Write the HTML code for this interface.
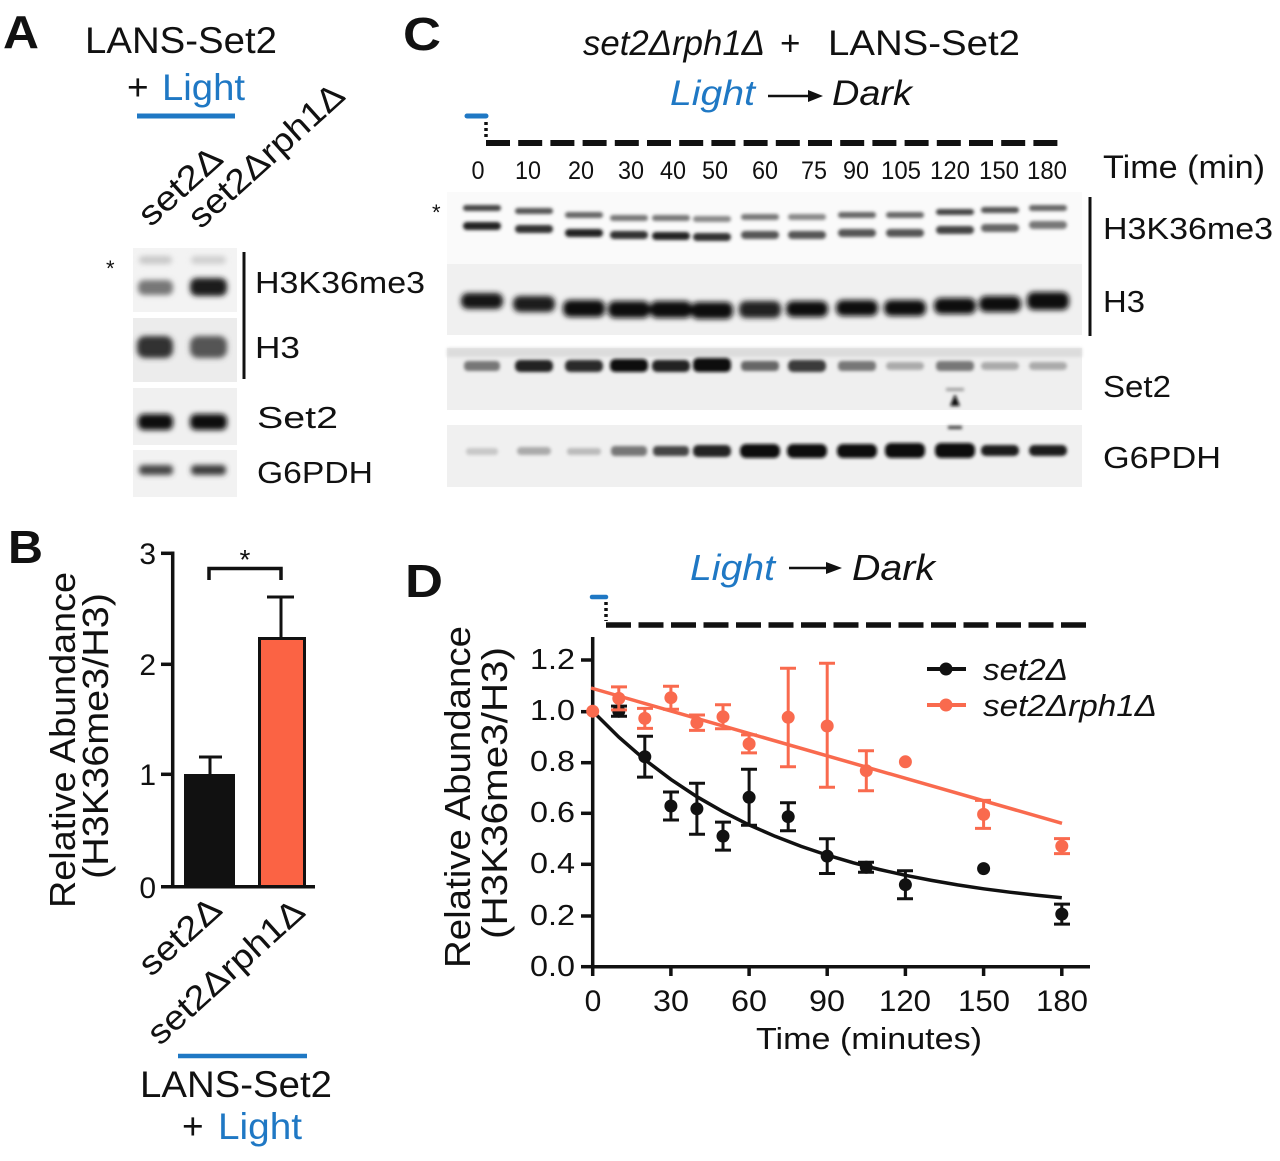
<!DOCTYPE html>
<html><head><meta charset="utf-8"><style>
html,body{margin:0;padding:0;background:#fff;}
svg{display:block;}
text{font-family:"Liberation Sans",Arial,sans-serif;fill:#111;}
</style></head><body>
<svg width="1280" height="1161" viewBox="0 0 1280 1161" xmlns="http://www.w3.org/2000/svg">
<defs>
<filter id="b1" x="-50%" y="-100%" width="200%" height="300%"><feGaussianBlur stdDeviation="1.6"/></filter>
<filter id="b2" x="-50%" y="-100%" width="200%" height="300%"><feGaussianBlur stdDeviation="2.6"/></filter>
</defs>

<!-- Panel letters -->
<text x="3" y="48" font-size="46" font-weight="bold" textLength="36" lengthAdjust="spacingAndGlyphs">A</text>
<text x="8" y="563" font-size="46" font-weight="bold" textLength="35" lengthAdjust="spacingAndGlyphs">B</text>
<text x="403" y="50" font-size="46" font-weight="bold" textLength="38" lengthAdjust="spacingAndGlyphs">C</text>
<text x="405" y="597" font-size="46" font-weight="bold" textLength="38" lengthAdjust="spacingAndGlyphs">D</text>

<!-- ================= PANEL A ================= -->
<text x="85" y="53" font-size="37" textLength="192" lengthAdjust="spacingAndGlyphs">LANS-Set2</text>
<text x="127" y="100" font-size="37">+</text>
<text x="162" y="100" font-size="37" style="fill:#1f78c4" textLength="83" lengthAdjust="spacingAndGlyphs">Light</text>
<line x1="137" y1="116" x2="235" y2="116" stroke="#1f78c4" stroke-width="5"/>
<text transform="translate(225,161) rotate(-42)" text-anchor="end" font-size="34" textLength="100" lengthAdjust="spacingAndGlyphs">set2Δ</text>
<text transform="translate(347,98) rotate(-42)" text-anchor="end" font-size="34" textLength="197" lengthAdjust="spacingAndGlyphs">set2Δrph1Δ</text>

<text x="106" y="276" font-size="22">*</text>
<!-- A blots -->
<rect x="133" y="248" width="104" height="64" fill="#f3f3f3"/>
<rect x="133" y="318" width="104" height="64" fill="#ececec"/>
<rect x="133" y="388" width="104" height="57" fill="#f0f0f0"/>
<rect x="133" y="450" width="104" height="47" fill="#f2f2f2"/>
<g filter="url(#b2)">
<rect x="139" y="256" width="33" height="8" rx="4" fill="#c8c8c8"/>
<rect x="191" y="256" width="35" height="8" rx="4" fill="#cfcfcf"/>
<rect x="138" y="280" width="35" height="15" rx="6" fill="#777"/>
<rect x="190" y="278" width="37" height="18" rx="7" fill="#1a1a1a"/>
<rect x="137" y="336" width="36" height="22" rx="8" fill="#333"/>
<rect x="190" y="336" width="37" height="22" rx="8" fill="#555"/>
<rect x="138" y="414" width="35" height="16" rx="6" fill="#111"/>
<rect x="190" y="414" width="37" height="16" rx="6" fill="#111"/>
<rect x="139" y="465" width="34" height="10" rx="4" fill="#444"/>
<rect x="191" y="465" width="35" height="10" rx="4" fill="#3a3a3a"/>
</g>
<line x1="244" y1="252" x2="244" y2="379" stroke="#111" stroke-width="3"/>
<text x="255" y="293" font-size="31" textLength="170" lengthAdjust="spacingAndGlyphs">H3K36me3</text>
<text x="255" y="358" font-size="31" textLength="45" lengthAdjust="spacingAndGlyphs">H3</text>
<text x="257" y="428" font-size="31" textLength="81" lengthAdjust="spacingAndGlyphs">Set2</text>
<text x="257" y="483" font-size="31" textLength="116" lengthAdjust="spacingAndGlyphs">G6PDH</text>

<!-- ================= PANEL B ================= -->
<text transform="translate(75,740) rotate(-90)" text-anchor="middle" font-size="36" textLength="336" lengthAdjust="spacingAndGlyphs">Relative Abundance</text>
<text transform="translate(108,736) rotate(-90)" text-anchor="middle" font-size="36" textLength="286" lengthAdjust="spacingAndGlyphs">(H3K36me3/H3)</text>
<g font-size="30" text-anchor="end">
<text x="156" y="564">3</text>
<text x="156" y="675">2</text>
<text x="156" y="785">1</text>
<text x="156" y="898">0</text>
</g>
<g stroke="#111" stroke-width="3.5" fill="none">
<line x1="172.7" y1="551.5" x2="172.7" y2="888"/>
<line x1="161" y1="886.7" x2="315" y2="886.7"/>
<line x1="161" y1="553.3" x2="172" y2="553.3"/>
<line x1="161" y1="664.3" x2="172" y2="664.3"/>
<line x1="161" y1="774.3" x2="172" y2="774.3"/>
</g>
<rect x="184" y="774" width="51" height="113" fill="#111"/>
<rect x="259.5" y="638.5" width="45" height="248" fill="#fb6344" stroke="#111" stroke-width="3"/>
<g stroke="#111" stroke-width="3" fill="none">
<line x1="210" y1="774" x2="210" y2="757"/>
<line x1="199" y1="757" x2="222" y2="757"/>
<line x1="281" y1="637" x2="281" y2="597"/>
<line x1="267" y1="597" x2="294" y2="597"/>
<path d="M209 580 V568.5 H281 V580" stroke-width="3.5"/>
</g>
<text x="245" y="569" font-size="28" text-anchor="middle">*</text>
<text transform="translate(224,912) rotate(-42)" text-anchor="end" font-size="34" textLength="98" lengthAdjust="spacingAndGlyphs">set2Δ</text>
<text transform="translate(307,914) rotate(-42)" text-anchor="end" font-size="34" textLength="198" lengthAdjust="spacingAndGlyphs">set2Δrph1Δ</text>
<line x1="178" y1="1056" x2="307" y2="1056" stroke="#1f78c4" stroke-width="4.5"/>
<text x="140" y="1097" font-size="37" textLength="192" lengthAdjust="spacingAndGlyphs">LANS-Set2</text>
<text x="182" y="1139" font-size="37">+</text>
<text x="218" y="1139" font-size="37" style="fill:#1f78c4" textLength="84" lengthAdjust="spacingAndGlyphs">Light</text>

<!-- ================= PANEL C ================= -->
<text x="583" y="55" font-size="35" font-style="italic" textLength="182" lengthAdjust="spacingAndGlyphs">set2Δrph1Δ</text>
<text x="780" y="55" font-size="35">+</text>
<text x="828" y="55" font-size="35" textLength="192" lengthAdjust="spacingAndGlyphs">LANS-Set2</text>
<text x="670" y="105" font-size="35" font-style="italic" style="fill:#1f78c4" textLength="85" lengthAdjust="spacingAndGlyphs">Light</text>
<line x1="768" y1="96" x2="812" y2="96" stroke="#111" stroke-width="2.5"/>
<path d="M808 90 L823 96 L808 102 Z" fill="#111"/>
<text x="832" y="105" font-size="35" font-style="italic" textLength="80" lengthAdjust="spacingAndGlyphs">Dark</text>

<line x1="467" y1="116" x2="486" y2="116" stroke="#1f78c4" stroke-width="5" stroke-linecap="round"/>
<line x1="486" y1="122" x2="486" y2="140" stroke="#111" stroke-width="3.5" stroke-dasharray="3 3"/>
<line x1="486" y1="143" x2="1065" y2="143" stroke="#111" stroke-width="6" stroke-dasharray="24 8.2"/>

<g font-size="25" text-anchor="middle">
<text x="478" y="179" textLength="13" lengthAdjust="spacingAndGlyphs">0</text>
<text x="528" y="179" textLength="26" lengthAdjust="spacingAndGlyphs">10</text>
<text x="581" y="179" textLength="26" lengthAdjust="spacingAndGlyphs">20</text>
<text x="631" y="179" textLength="26" lengthAdjust="spacingAndGlyphs">30</text>
<text x="673" y="179" textLength="26" lengthAdjust="spacingAndGlyphs">40</text>
<text x="715" y="179" textLength="26" lengthAdjust="spacingAndGlyphs">50</text>
<text x="765" y="179" textLength="26" lengthAdjust="spacingAndGlyphs">60</text>
<text x="814" y="179" textLength="26" lengthAdjust="spacingAndGlyphs">75</text>
<text x="856" y="179" textLength="26" lengthAdjust="spacingAndGlyphs">90</text>
<text x="901" y="179" textLength="40" lengthAdjust="spacingAndGlyphs">105</text>
<text x="950" y="179" textLength="40" lengthAdjust="spacingAndGlyphs">120</text>
<text x="999" y="179" textLength="40" lengthAdjust="spacingAndGlyphs">150</text>
<text x="1047" y="179" textLength="40" lengthAdjust="spacingAndGlyphs">180</text>
</g>
<text x="1103" y="178" font-size="32" textLength="162" lengthAdjust="spacingAndGlyphs">Time (min)</text>
<text x="432" y="220" font-size="22">*</text>

<!-- C blot backgrounds -->
<rect x="447" y="192" width="635" height="72" fill="#fafafa"/>
<rect x="447" y="264" width="635" height="71" fill="#f0f0f0"/>
<rect x="447" y="348" width="635" height="62" fill="#efefef"/>
<rect x="447" y="425" width="635" height="62" fill="#f0f0f0"/>
<rect x="447" y="348" width="635" height="9" fill="#dcdcdc" filter="url(#b1)"/>

<!-- H3K36me3 bands -->
<g filter="url(#b1)">
<rect x="463" y="205" width="38" height="6" rx="3" fill="#444"/>
<rect x="515" y="208" width="38" height="6" rx="3" fill="#555"/>
<rect x="565" y="212" width="38" height="6" rx="3" fill="#666"/>
<rect x="610" y="215" width="38" height="6" rx="3" fill="#777"/>
<rect x="652" y="215" width="38" height="6" rx="3" fill="#777"/>
<rect x="693" y="216" width="38" height="6" rx="3" fill="#888"/>
<rect x="741" y="214" width="38" height="6" rx="3" fill="#777"/>
<rect x="788" y="214" width="38" height="6" rx="3" fill="#888"/>
<rect x="838" y="212" width="38" height="6" rx="3" fill="#666"/>
<rect x="886" y="212" width="38" height="6" rx="3" fill="#666"/>
<rect x="936" y="209" width="38" height="6" rx="3" fill="#444"/>
<rect x="981" y="207" width="38" height="6" rx="3" fill="#555"/>
<rect x="1029" y="205" width="38" height="6" rx="3" fill="#666"/>

<rect x="463" y="222" width="38" height="8" rx="4" fill="#222"/>
<rect x="515" y="225" width="38" height="8" rx="4" fill="#333"/>
<rect x="565" y="229" width="38" height="8" rx="4" fill="#222"/>
<rect x="610" y="231" width="38" height="8" rx="4" fill="#333"/>
<rect x="652" y="232" width="38" height="8" rx="4" fill="#222"/>
<rect x="693" y="233" width="38" height="8" rx="4" fill="#333"/>
<rect x="741" y="231" width="38" height="8" rx="4" fill="#555"/>
<rect x="788" y="231" width="38" height="8" rx="4" fill="#555"/>
<rect x="838" y="229" width="38" height="8" rx="4" fill="#555"/>
<rect x="886" y="229" width="38" height="8" rx="4" fill="#555"/>
<rect x="936" y="226" width="38" height="8" rx="4" fill="#444"/>
<rect x="981" y="224" width="38" height="8" rx="4" fill="#666"/>
<rect x="1029" y="221" width="38" height="8" rx="4" fill="#777"/>
</g>
<!-- H3 bands -->
<g filter="url(#b2)">
<rect x="461" y="293" width="42" height="16" rx="7" fill="#151515"/>
<rect x="513" y="296" width="42" height="16" rx="7" fill="#1a1a1a"/>
<rect x="563" y="300" width="42" height="17" rx="7" fill="#111"/>
<rect x="608" y="301" width="42" height="17" rx="7" fill="#111"/>
<rect x="650" y="301" width="42" height="17" rx="7" fill="#111"/>
<rect x="691" y="302" width="42" height="17" rx="7" fill="#111"/>
<rect x="739" y="301" width="42" height="17" rx="7" fill="#222"/>
<rect x="786" y="301" width="42" height="16" rx="7" fill="#111"/>
<rect x="836" y="300" width="42" height="16" rx="7" fill="#111"/>
<rect x="884" y="300" width="42" height="16" rx="7" fill="#111"/>
<rect x="934" y="298" width="42" height="16" rx="7" fill="#111"/>
<rect x="979" y="296" width="42" height="16" rx="7" fill="#111"/>
<rect x="1027" y="292" width="42" height="18" rx="7" fill="#111"/>
</g>
<!-- Set2 bands -->
<g filter="url(#b1)">
<rect x="464" y="361" width="36" height="10" rx="4" fill="#777"/>
<rect x="515" y="360" width="38" height="12" rx="5" fill="#222"/>
<rect x="565" y="360" width="38" height="12" rx="5" fill="#2a2a2a"/>
<rect x="610" y="359" width="38" height="13" rx="5" fill="#111"/>
<rect x="652" y="360" width="38" height="12" rx="5" fill="#222"/>
<rect x="693" y="358" width="38" height="14" rx="5" fill="#111"/>
<rect x="741" y="361" width="38" height="10" rx="4" fill="#666"/>
<rect x="788" y="360" width="38" height="12" rx="5" fill="#3a3a3a"/>
<rect x="838" y="361" width="38" height="10" rx="4" fill="#777"/>
<rect x="886" y="362" width="38" height="8" rx="4" fill="#aaa"/>
<rect x="936" y="361" width="38" height="10" rx="4" fill="#777"/>
<rect x="981" y="362" width="38" height="8" rx="4" fill="#aaa"/>
<rect x="1029" y="362" width="38" height="8" rx="4" fill="#aaa"/>
<path d="M955 394 L960 406 L950 406 Z" fill="#111"/>
<rect x="946" y="388" width="18" height="3" fill="#999"/>
<rect x="948" y="426" width="14" height="3" fill="#333"/>
</g>
<!-- G6PDH bands -->
<g filter="url(#b1)">
<rect x="466" y="448" width="32" height="7" rx="3" fill="#c8c8c8"/>
<rect x="517" y="447" width="34" height="8" rx="4" fill="#aaa"/>
<rect x="567" y="448" width="34" height="7" rx="3" fill="#bbb"/>
<rect x="611" y="446" width="36" height="10" rx="4" fill="#777"/>
<rect x="653" y="446" width="36" height="10" rx="4" fill="#444"/>
<rect x="693" y="445" width="38" height="12" rx="5" fill="#222"/>
<rect x="740" y="444" width="40" height="14" rx="6" fill="#111"/>
<rect x="787" y="444" width="40" height="14" rx="6" fill="#111"/>
<rect x="837" y="444" width="40" height="14" rx="6" fill="#111"/>
<rect x="885" y="443" width="40" height="15" rx="6" fill="#111"/>
<rect x="935" y="443" width="40" height="15" rx="6" fill="#111"/>
<rect x="981" y="445" width="38" height="11" rx="5" fill="#1a1a1a"/>
<rect x="1029" y="445" width="38" height="11" rx="5" fill="#1a1a1a"/>
</g>
<line x1="1090" y1="197" x2="1090" y2="336" stroke="#111" stroke-width="3"/>
<text x="1103" y="239" font-size="31" textLength="170" lengthAdjust="spacingAndGlyphs">H3K36me3</text>
<text x="1103" y="312" font-size="31" textLength="42" lengthAdjust="spacingAndGlyphs">H3</text>
<text x="1103" y="397" font-size="31" textLength="68" lengthAdjust="spacingAndGlyphs">Set2</text>
<text x="1103" y="468" font-size="31" textLength="118" lengthAdjust="spacingAndGlyphs">G6PDH</text>

<!-- ================= PANEL D ================= -->
<text x="690" y="580" font-size="36" font-style="italic" style="fill:#1f78c4" textLength="85" lengthAdjust="spacingAndGlyphs">Light</text>
<line x1="789" y1="568" x2="830" y2="568" stroke="#111" stroke-width="2.5"/>
<path d="M826 562 L842 568 L826 574 Z" fill="#111"/>
<text x="852" y="580" font-size="36" font-style="italic" textLength="83" lengthAdjust="spacingAndGlyphs">Dark</text>

<line x1="592" y1="597" x2="606" y2="597" stroke="#1f78c4" stroke-width="4.5" stroke-linecap="round"/>
<line x1="606" y1="602" x2="606" y2="621" stroke="#111" stroke-width="3.5" stroke-dasharray="3 3"/>
<line x1="606" y1="625" x2="1093" y2="625" stroke="#111" stroke-width="5.5" stroke-dasharray="25 7.5"/>

<text transform="translate(470,797) rotate(-90)" text-anchor="middle" font-size="36" textLength="342" lengthAdjust="spacingAndGlyphs">Relative Abundance</text>
<text transform="translate(507,793) rotate(-90)" text-anchor="middle" font-size="36" textLength="292" lengthAdjust="spacingAndGlyphs">(H3K36me3/H3)</text>

<g font-size="29" text-anchor="end">
<text x="575" y="669" textLength="45" lengthAdjust="spacingAndGlyphs">1.2</text>
<text x="575" y="720" textLength="45" lengthAdjust="spacingAndGlyphs">1.0</text>
<text x="575" y="771" textLength="45" lengthAdjust="spacingAndGlyphs">0.8</text>
<text x="575" y="822" textLength="45" lengthAdjust="spacingAndGlyphs">0.6</text>
<text x="575" y="873" textLength="45" lengthAdjust="spacingAndGlyphs">0.4</text>
<text x="575" y="925" textLength="45" lengthAdjust="spacingAndGlyphs">0.2</text>
<text x="575" y="976" textLength="45" lengthAdjust="spacingAndGlyphs">0.0</text>
</g>
<g font-size="30" text-anchor="middle">
<text x="593" y="1011">0</text>
<text x="671" y="1011" textLength="36" lengthAdjust="spacingAndGlyphs">30</text>
<text x="749" y="1011" textLength="36" lengthAdjust="spacingAndGlyphs">60</text>
<text x="827" y="1011" textLength="36" lengthAdjust="spacingAndGlyphs">90</text>
<text x="905" y="1011" textLength="52" lengthAdjust="spacingAndGlyphs">120</text>
<text x="984" y="1011" textLength="52" lengthAdjust="spacingAndGlyphs">150</text>
<text x="1062" y="1011" textLength="52" lengthAdjust="spacingAndGlyphs">180</text>
</g>
<text x="756" y="1049" font-size="31" textLength="226" lengthAdjust="spacingAndGlyphs">Time (minutes)</text>

<g stroke="#111" stroke-width="3.5" fill="none">
<line x1="592.7" y1="637" x2="592.7" y2="968.5"/>
<line x1="591" y1="966.7" x2="1090" y2="966.7"/>
<line x1="581" y1="660" x2="592" y2="660"/>
<line x1="581" y1="711.7" x2="592" y2="711.7"/>
<line x1="581" y1="762.7" x2="592" y2="762.7"/>
<line x1="581" y1="813.3" x2="592" y2="813.3"/>
<line x1="581" y1="864.3" x2="592" y2="864.3"/>
<line x1="581" y1="916" x2="592" y2="916"/>
<line x1="581" y1="966.7" x2="592" y2="966.7"/>
<line x1="592.7" y1="967" x2="592.7" y2="976"/>
<line x1="670.9" y1="967" x2="670.9" y2="976"/>
<line x1="749.1" y1="967" x2="749.1" y2="976"/>
<line x1="827.2" y1="967" x2="827.2" y2="976"/>
<line x1="905.4" y1="967" x2="905.4" y2="976"/>
<line x1="983.6" y1="967" x2="983.6" y2="976"/>
<line x1="1061.8" y1="967" x2="1061.8" y2="976"/>
</g>

<!-- fits -->
<line x1="591" y1="688" x2="1062" y2="823.3" stroke="#f96a4e" stroke-width="3.5"/>
<polyline fill="none" stroke="#111" stroke-width="3.5" points="592.7,711.2 618.8,737.1 644.8,759.7 670.9,779.4 696.9,796.7 723.0,811.7 749.1,824.9 775.1,836.3 801.2,846.4 827.2,855.1 853.3,862.8 879.4,869.5 905.4,875.3 931.5,880.4 957.5,884.9 983.6,888.8 1009.7,892.2 1035.7,895.1 1061.8,897.7"/>

<!-- black error bars -->
<g stroke="#111" stroke-width="3" fill="none">
<path d="M618.8 706.1V716.3M611 706.1h16M611 716.3h16"/>
<path d="M644.8 736.3V777.1M637 736.3h16M637 777.1h16"/>
<path d="M670.9 792V820M663 792h16M663 820h16"/>
<path d="M696.9 783.3V834.3M689 783.3h16M689 834.3h16"/>
<path d="M723 822.1V850.1M715 822.1h16M715 850.1h16"/>
<path d="M749.1 769.3V825.3M741 769.3h16M741 825.3h16"/>
<path d="M788.2 802.7V830.7M780 802.7h16M780 830.7h16"/>
<path d="M827.2 838.7V873.5M819 838.7h16M819 873.5h16"/>
<path d="M866.3 862.3V872.3M858 862.3h16M858 872.3h16"/>
<path d="M905.4 870.7V898.7M897 870.7h16M897 898.7h16"/>
<path d="M1061.8 904.1V924.1M1054 904.1h16M1054 924.1h16"/>
</g>
<g fill="#111">
<circle cx="618.8" cy="711.2" r="6.5"/>
<circle cx="644.8" cy="756.7" r="6.5"/>
<circle cx="670.9" cy="806" r="6.5"/>
<circle cx="696.9" cy="808.8" r="6.5"/>
<circle cx="723" cy="836.1" r="6.5"/>
<circle cx="749.1" cy="797.3" r="6.5"/>
<circle cx="788.2" cy="816.7" r="6.5"/>
<circle cx="827.2" cy="856.1" r="6.5"/>
<circle cx="866.3" cy="867.3" r="6.5"/>
<circle cx="905.4" cy="884.7" r="6.5"/>
<circle cx="983.6" cy="868.6" r="6.5"/>
<circle cx="1061.8" cy="914.1" r="6.5"/>
</g>

<!-- orange error bars -->
<g stroke="#f96a4e" stroke-width="3" fill="none">
<path d="M618.8 686.9V709.9M611 686.9h16M611 709.9h16"/>
<path d="M644.8 708.4V728.4M637 708.4h16M637 728.4h16"/>
<path d="M670.9 686.2V709.2M663 686.2h16M663 709.2h16"/>
<path d="M696.9 715V730.4M689 715h16M689 730.4h16"/>
<path d="M723 704.8V728.8M715 704.8h16M715 728.8h16"/>
<path d="M749.1 734.9V752.9M741 734.9h16M741 752.9h16"/>
<path d="M788.2 668.3V766.7M780 668.3h16M780 766.7h16"/>
<path d="M827.2 663.3V787.3M819 663.3h16M819 787.3h16"/>
<path d="M866.3 750.7V790.7M858 750.7h16M858 790.7h16"/>
<path d="M983.6 800.4V828.4M975 800.4h16M975 828.4h16"/>
<path d="M1061.8 838.6V853.6M1054 838.6h16M1054 853.6h16"/>
</g>
<g fill="#f96a4e">
<circle cx="592.7" cy="711.2" r="6.5"/>
<circle cx="618.8" cy="698.4" r="6.5"/>
<circle cx="644.8" cy="718.4" r="6.5"/>
<circle cx="670.9" cy="697.7" r="6.5"/>
<circle cx="696.9" cy="722.7" r="6.5"/>
<circle cx="723" cy="716.8" r="6.5"/>
<circle cx="749.1" cy="743.9" r="6.5"/>
<circle cx="788.2" cy="717.3" r="6.5"/>
<circle cx="827.2" cy="726" r="6.5"/>
<circle cx="866.3" cy="770.7" r="6.5"/>
<circle cx="905.4" cy="761.8" r="6.5"/>
<circle cx="983.6" cy="814.4" r="6.5"/>
<circle cx="1061.8" cy="846.1" r="6.5"/>
</g>

<!-- legend -->
<line x1="927" y1="669" x2="966" y2="669" stroke="#111" stroke-width="4"/>
<circle cx="946" cy="669" r="6.5" fill="#111"/>
<line x1="927" y1="705" x2="966" y2="705" stroke="#f96a4e" stroke-width="4"/>
<circle cx="946" cy="705" r="6.5" fill="#f96a4e"/>
<text x="983" y="680" font-size="31" font-style="italic" textLength="85" lengthAdjust="spacingAndGlyphs">set2Δ</text>
<text x="983" y="716" font-size="31" font-style="italic" textLength="174" lengthAdjust="spacingAndGlyphs">set2Δrph1Δ</text>
</svg>
</body></html>
